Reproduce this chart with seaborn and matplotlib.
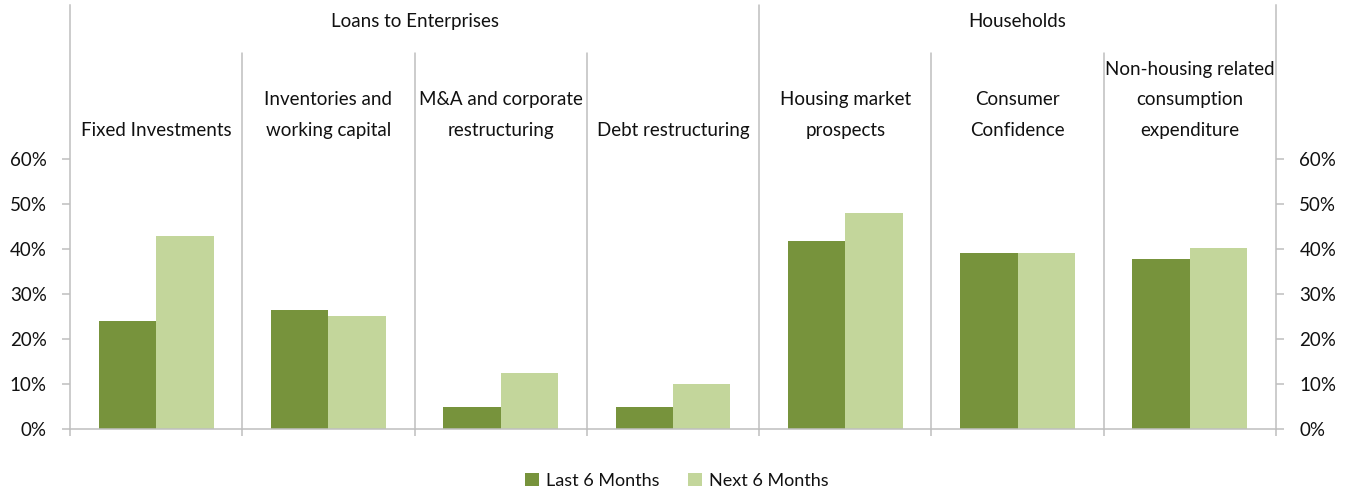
import numpy as np
import pandas as pd
import matplotlib
matplotlib.use("Agg")
import matplotlib.pyplot as plt
import seaborn as sns
from matplotlib.ticker import PercentFormatter

# data
categories = ['Fixed Investments', 'Inventories and\nworking capital', 'M&A and corporate\nrestructuring',
              'Debt restructuring', 'Housing market\nprospects', 'Consumer\nConfidence',
              'Non-housing related\nconsumption\nexpenditure']
last_6m = [0.240, 0.265, 0.050, 0.050, 0.418, 0.391, 0.378]
next_6m = [0.430, 0.252, 0.126, 0.100, 0.480, 0.391, 0.404]
series = ['Last 6 Months', 'Next 6 Months']
groups = ['Loans to Enterprises', 'Households']
group_first = [0, 4]
group_last = [3, 6]

df = pd.DataFrame({
    'cat': categories * 2,
    'val': last_6m + next_6m,
    'serie': [series[0]] * len(categories) + [series[1]] * len(categories),
})

sns.set_theme(style="white")
plt.rcParams['font.family'] = ['Lato', 'DejaVu Sans']
plt.rcParams['text.color'] = '#111111'

grey = '#BFBFBF'
farger = {series[0]: '#77933C', series[1]: '#C3D69B'}

fig = plt.figure(figsize=(13.51, 4.95), dpi=100)
ax = fig.add_axes([0.0518, 0.1327, 0.8927, 0.8572])

sns.barplot(data=df, x='cat', y='val', hue='serie', palette=farger, width=2/3, gap=0,
            saturation=1, ax=ax, edgecolor='none', linewidth=0)

ymax = 0.943
ax.set_xlim(-0.5, len(categories) - 0.5)
ax.set_ylim(0, ymax)
ax.set_yticks(np.arange(0, 0.61, 0.1))
ax.yaxis.set_major_formatter(PercentFormatter(1.0, decimals=0))
ax.set_xticks(np.arange(-0.5, len(categories), 1))
ax.set_xticklabels([])
ax.set_xlabel('')
ax.set_ylabel('')

ax.tick_params(axis='y', left=True, right=True, labelleft=True, labelright=True, length=5.8,
               width=1.1, color=grey, labelsize=13.5, labelcolor='#111111', pad=11, direction='out')
ax.tick_params(axis='x', bottom=True, length=5.3, width=1.1, color=grey, direction='out')

for side in ['left', 'right', 'bottom']:
    ax.spines[side].set_color(grey)
    ax.spines[side].set_linewidth(1.1)
ax.spines['top'].set_visible(False)

# skillelinjer mellom kategoriene
for b in np.arange(0.5, len(categories) - 1, 1):
    if b == 3.5:
        ax.plot([b, b], [0, ymax], color=grey, lw=1.1, clip_on=False)
    else:
        ax.plot([b, b], [0, 0.836], color=grey, lw=1.1, clip_on=False)

# kategorietiketter
for i, c in enumerate(categories):
    ax.text(i, 0.652, c, ha='center', va='baseline', fontsize=13.5, linespacing=1.97)

# gruppetitler
for g, a, b in zip(groups, group_first, group_last):
    ax.text((a + b) / 2, 0.895, g, ha='center', va='baseline', fontsize=13.5)

handles, labels = ax.get_legend_handles_labels()
ax.get_legend().remove()
fig.legend(handles, labels, loc='center', bbox_to_anchor=(0.501, 0.028), ncol=2, frameon=False,
           fontsize=13, handlelength=0.75, handleheight=0.75, handletextpad=0.4, columnspacing=1.6)

fig.savefig('out.png', dpi=100)
